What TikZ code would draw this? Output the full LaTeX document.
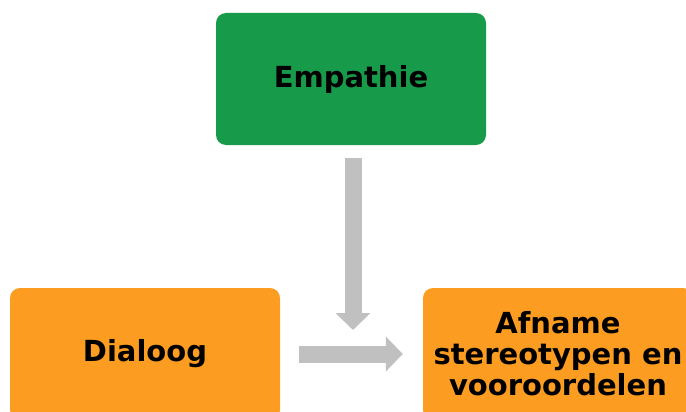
\documentclass[tikz,border=0pt]{standalone}
\usepackage{fontspec}
\setmainfont{DejaVu Sans}
\usetikzlibrary{arrows.meta}
\definecolor{empgreen}{HTML}{179B4B}
\definecolor{dialorange}{HTML}{FC9C20}
\definecolor{arrowgray}{HTML}{C0C0C0}
\begin{document}
\begin{tikzpicture}[x=1pt, y=-1pt,
  box/.style={rounded corners=10pt, minimum width=270pt, minimum height=132pt, align=center, font=\fontsize{29}{31}\selectfont\bfseries},
  blockarrow/.style={draw=arrowgray, line width=17pt, -{Triangle[length=17pt, width=34pt]}}]
\useasboundingbox (0,0) rectangle (686,412);
\node[box, fill=empgreen] (emp) at (351,79) {Empathie};
\node[box, fill=dialorange] (dia) at (145,354) {Dialoog};
\node[box, fill=dialorange] (afn) at (558,354) {Afname\\stereotypen en\\vooroordelen};
\coordinate (meet) at (353,330);
\draw [blockarrow, shorten <=13pt] (emp.south -| meet) -- (meet);
\draw [blockarrow, shorten <=19pt, shorten >=20pt] (dia) -- (afn);
\end{tikzpicture}
\end{document}
